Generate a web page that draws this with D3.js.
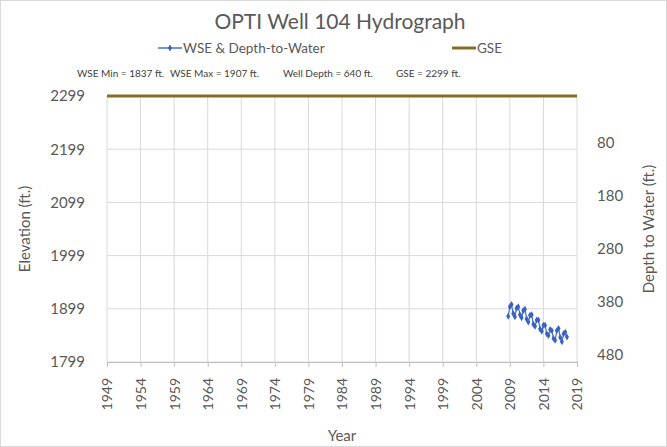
<!DOCTYPE html>
<html><head><meta charset="utf-8">
<script src="https://cdn.jsdelivr.net/npm/d3@7"></script>
<style>
html,body{margin:0;padding:0;background:#fff;}
svg{display:block;}
</style></head>
<body>
<script>
// ---- data ----
const wseYears = [2008.75,2009.0,2009.25,2009.5,2009.75,2010.0,2010.25,2010.5,2010.75,2011.0,2011.25,2011.5,2011.75,2012.0,2012.25,2012.5,2012.75,2013.0,2013.25,2013.5,2013.75,2014.0,2014.25,2014.5,2014.75,2015.0,2015.25,2015.5,2015.75,2016.0,2016.25,2016.5,2016.75,2017.0,2017.25,2017.5];
const wseValues = [1885,1903,1907,1890,1884,1900,1903,1888,1882,1896,1898,1880,1874,1887,1888,1870,1866,1878,1878,1861,1857,1868,1868,1852,1849,1860,1858,1843,1840,1858,1862,1845,1837,1852,1855,1846];
const gseYears = [1949, 2019];
const gseValues = [2299, 2299];
const xTicks = [1949,1954,1959,1964,1969,1974,1979,1984,1989,1994,1999,2004,2009,2014,2019];
const yTicks = [1799,1899,1999,2099,2199,2299];
const depthTicks = [80,180,280,380,480];
const stats = ["WSE Min = 1837 ft.","WSE Max = 1907 ft.","Well Depth = 640 ft.","GSE =  2299 ft."];

const W = 667, H = 447;
const m = {l:107, r:90, t:96, b:85};
const font = "Lato, 'Open Sans', sans-serif";
const txt = "#595959";

const svg = d3.select("body").append("svg").attr("width",W).attr("height",H);
svg.append("rect").attr("x",0.5).attr("y",0.5).attr("width",W-1).attr("height",H-1)
  .attr("fill","#fff").attr("stroke","#d9d9d9");

const x = d3.scaleLinear().domain([1949,2019]).range([m.l, W-m.r]);
const y = d3.scaleLinear().domain([1799,2299]).range([H-m.b, m.t]);
const yR = d3.scaleLinear().domain([493,-7]).range([H-m.b, m.t]);

// gridlines
const g = svg.append("g");
g.selectAll(".vg").data(xTicks).join("line")
  .attr("x1",d=>x(d)).attr("x2",d=>x(d)).attr("y1",m.t).attr("y2",H-m.b)
  .attr("stroke","#d9d9d9").attr("stroke-width",1);
g.selectAll(".hg").data(yTicks).join("line")
  .attr("x1",m.l).attr("x2",W-m.r).attr("y1",d=>y(d)).attr("y2",d=>y(d))
  .attr("stroke","#d9d9d9").attr("stroke-width",1);

// x axis
const xa = svg.append("g").attr("transform",`translate(0,${H-m.b})`)
  .call(d3.axisBottom(x).tickValues(xTicks).tickFormat(d3.format("d")).tickSize(5).tickSizeOuter(0));
xa.select(".domain").attr("stroke","#bfbfbf");
xa.selectAll(".tick line").attr("stroke","#bfbfbf");
xa.selectAll("text").attr("transform","rotate(-90)").attr("x",-16).attr("y",0).attr("dy","0.35em")
  .style("text-anchor","end").attr("fill",txt).style("font-family",font).style("font-size","14px");

// left axis
const ya = svg.append("g").attr("transform",`translate(${m.l},0)`)
  .call(d3.axisLeft(y).tickValues(yTicks).tickFormat(d3.format("d")).tickSize(0));
ya.select(".domain").remove();
ya.selectAll("text").attr("x",-22).attr("fill",txt).style("font-family",font).style("font-size","15px");

// right axis
const yra = svg.append("g").attr("transform",`translate(${W-m.r},0)`)
  .call(d3.axisRight(yR).tickValues(depthTicks).tickFormat(d3.format("d")).tickSize(0));
yra.select(".domain").remove();
yra.selectAll("text").attr("x",20).attr("fill",txt).style("font-family",font).style("font-size","15px");

// GSE line
svg.append("path").datum(gseYears.map((d,i)=>[d,gseValues[i]]))
  .attr("d",d3.line().x(d=>x(d[0])).y(d=>y(d[1])))
  .attr("fill","none").attr("stroke","#8B6B23").attr("stroke-width",3);

// WSE series
const wse = wseYears.map((d,i)=>[d,wseValues[i]]);
svg.append("path").datum(wse)
  .attr("d",d3.line().x(d=>x(d[0])).y(d=>y(d[1])))
  .attr("fill","none").attr("stroke","#4472C4").attr("stroke-width",1.2);
svg.selectAll(".pt").data(wse).join("path")
  .attr("transform",d=>`translate(${x(d[0])},${y(d[1])})`)
  .attr("d",d3.symbol(d3.symbolDiamond,14))
  .attr("fill","#3a62c0");

// title
svg.append("text").attr("x",340).attr("y",29).attr("text-anchor","middle")
  .style("font-family",font).style("font-size","21px").attr("fill",txt).text("OPTI Well 104 Hydrograph");

// legend
const lg = svg.append("g");
lg.append("line").attr("x1",158).attr("x2",182).attr("y1",48).attr("y2",48).attr("stroke","#4472C4").attr("stroke-width",1.5);
lg.append("path").attr("transform","translate(170,48)").attr("d",d3.symbol(d3.symbolDiamond,14)).attr("fill","#3a62c0");
lg.append("text").attr("x",183).attr("y",53).style("font-family",font).style("font-size","13.5px").attr("fill",txt).text("WSE & Depth-to-Water");
lg.append("line").attr("x1",452).attr("x2",476).attr("y1",48).attr("y2",48).attr("stroke","#8B6B23").attr("stroke-width",3);
lg.append("text").attr("x",477).attr("y",53).style("font-family",font).style("font-size","13.5px").attr("fill",txt).text("GSE");

// stats row
const sx = [77,170,283,396];
svg.selectAll(".st").data(stats).join("text")
  .attr("x",(d,i)=>sx[i]).attr("y",77)
  .style("font-family",font).style("font-size","10px").attr("fill","#404040").text(d=>d);

// axis titles
svg.append("text").attr("transform",`translate(30,${(m.t+H-m.b)/2}) rotate(-90)`).attr("text-anchor","middle")
  .style("font-family",font).style("font-size","15px").attr("fill",txt).text("Elevation (ft.)");
svg.append("text").attr("transform",`translate(654,${(m.t+H-m.b)/2}) rotate(-90)`).attr("text-anchor","middle")
  .style("font-family",font).style("font-size","15px").attr("fill",txt).text("Depth to Water (ft.)");
svg.append("text").attr("x",(m.l+W-m.r)/2).attr("y",441).attr("text-anchor","middle")
  .style("font-family",font).style("font-size","15px").attr("fill",txt).text("Year");
</script>
</body></html>
